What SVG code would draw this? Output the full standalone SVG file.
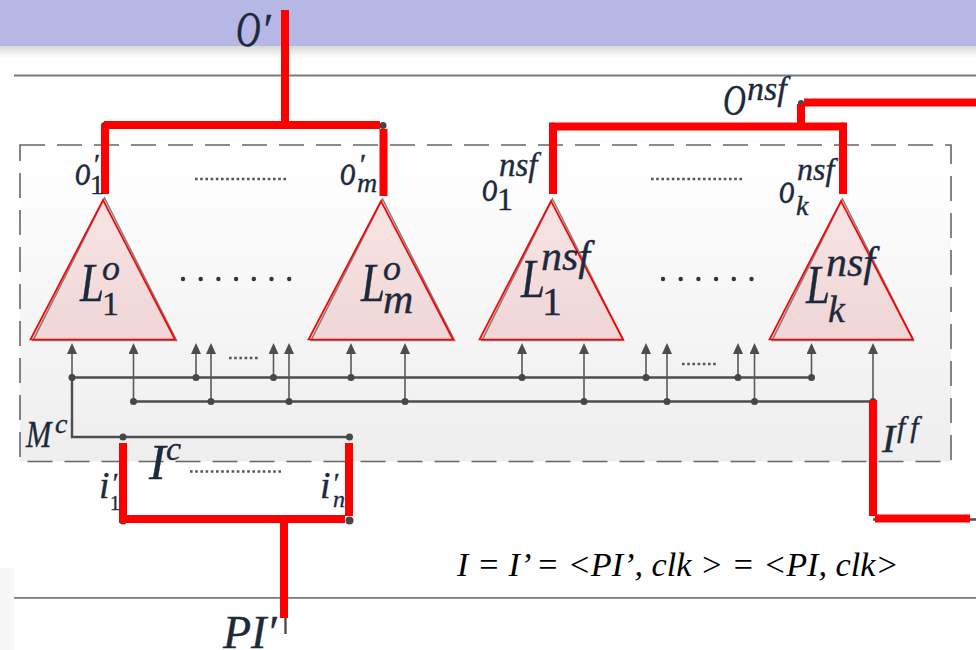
<svg xmlns="http://www.w3.org/2000/svg" width="976" height="650" viewBox="0 0 976 650">
<style>
.m{font-family:"Liberation Serif","Times New Roman",serif;font-style:italic;fill:#1c2a3c;stroke:#1c2a3c;stroke-width:.35}
.u{font-style:normal}
.tf{fill:url(#pink)}
.tri{fill:none;stroke:#ff0000;stroke-width:1.7;stroke-linejoin:miter}
.sh{fill:none;stroke:#808080;stroke-width:1.6}
.red{fill:none;stroke:#ff0000;stroke-width:8}
.bus{fill:none;stroke:#4d4d4d;stroke-width:2.4}
.arr{stroke:#5a5a5a;stroke-width:1.6;marker-end:url(#ah)}
.dot{fill:#474747}
.dots{fill:none;stroke:#555;stroke-dasharray:2.6 2.6;stroke-width:2.6}
.big{fill:none;stroke:#333;stroke-width:4.4;stroke-linecap:round;stroke-dasharray:0 17.7}
.rule{stroke:#7a7a7a;stroke-width:1.8}
</style>
<defs>
<marker id="ah" viewBox="0 0 11 10" refX="0" refY="5" markerWidth="11" markerHeight="10" markerUnits="userSpaceOnUse" orient="auto"><path d="M0 0L11 5L0 10Z" fill="#4d4d4d"/></marker>
<linearGradient id="panel" x1="0" y1="0" x2="0" y2="1"><stop offset="0" stop-color="#ffffff"/><stop offset="1" stop-color="#eeeeee"/></linearGradient>
<linearGradient id="pink" x1="0" y1="0" x2="0" y2="1"><stop offset="0" stop-color="#f8e4e4"/><stop offset="1" stop-color="#f0d6d6"/></linearGradient>
<linearGradient id="shade" x1="0" y1="0" x2="0" y2="1"><stop offset="0" stop-color="#d8d8d8"/><stop offset="1" stop-color="#ffffff"/></linearGradient>
</defs>
<rect width="976" height="650" fill="#ffffff"/>
<g id="background">
<rect x="0" y="0" width="976" height="46" fill="#b7b7e5"/>
<rect x="0" y="46" width="976" height="12" fill="url(#shade)"/>
<rect x="0" y="568" width="14" height="82" fill="#f7f7f7"/>
<line class="rule" x1="14" y1="75.5" x2="976" y2="75.5"/>
<line class="rule" x1="14" y1="597.8" x2="976" y2="597.8"/>
</g>
<g id="panel-box"><rect x="20" y="145" width="931" height="316.500" fill="url(#panel)" stroke="#666" stroke-width="1.600" stroke-dasharray="25 12"/></g>
<g id="node-L1o"><path class="tf" d="M103 200L175 339.500H30.500Z"/><path class="sh" d="M104.500 198L176.500 340.500H33Z"/><path class="tri" d="M103 200L175 339.500H30.500Z"/>
<text class="m" transform="translate(80 301) scale(.8 1)" font-size="54">L</text><text class="m" font-size="36"><tspan x="102" y="280">o</tspan><tspan class="u" x="102" y="315" font-size="34">1</tspan></text></g>
<g id="node-Lmo"><path class="tf" d="M381 201L453 339.500H308.500Z"/><path class="sh" d="M382.500 199L454.500 340.500H311Z"/><path class="tri" d="M381 201L453 339.500H308.500Z"/>
<text class="m" transform="translate(361 301) scale(.8 1)" font-size="54">L</text><text class="m" font-size="36"><tspan x="383" y="280">o</tspan><tspan x="383" y="313" font-size="42">m</tspan></text></g>
<g id="node-L1nsf"><path class="tf" d="M551 201L623 339.500H479.500Z"/><path class="sh" d="M552.500 199L623.500 340.500H482Z"/><path class="tri" d="M551 201L623 339.500H479.500Z"/>
<text class="m" transform="translate(521 297) scale(.8 1)" font-size="54">L</text><text class="m" font-size="42"><tspan x="541" y="270">nsf</tspan><tspan class="u" x="542" y="315" font-size="40">1</tspan></text></g>
<g id="node-Lknsf"><path class="tf" d="M841 201L913 339.500H769.500Z"/><path class="sh" d="M842.500 199L913.500 340.500H772Z"/><path class="tri" d="M841 201L913 339.500H769.500Z"/>
<text class="m" transform="translate(806 303) scale(.8 1)" font-size="54">L</text><text class="m" font-size="42"><tspan x="826" y="276">nsf</tspan><tspan x="828" y="322" font-size="38">k</tspan></text></g>
<g id="connectors">
<path class="bus" d="M72 377.500H811"/>
<path class="bus" d="M133.500 401.500H873"/>
<path class="bus" d="M72 377.500V437H349"/>
<path class="bus" d="M285.500 618V634"/>
<path class="bus" d="M873 519.500H976"/>
<g>
<line class="arr" x1="72" y1="377" x2="72" y2="354"/><line class="arr" x1="133.500" y1="401" x2="133.500" y2="354"/>
<line class="arr" x1="196" y1="377" x2="196" y2="354"/><line class="arr" x1="211" y1="401" x2="211" y2="354"/>
<line class="arr" x1="273.500" y1="377" x2="273.500" y2="354"/><line class="arr" x1="289" y1="401" x2="289" y2="354"/>
<line class="arr" x1="351" y1="377" x2="351" y2="354"/><line class="arr" x1="405" y1="401" x2="405" y2="354"/>
<line class="arr" x1="522" y1="377" x2="522" y2="354"/><line class="arr" x1="584" y1="401" x2="584" y2="354"/>
<line class="arr" x1="646" y1="377" x2="646" y2="354"/><line class="arr" x1="667" y1="401" x2="667" y2="354"/>
<line class="arr" x1="738" y1="377" x2="738" y2="354"/><line class="arr" x1="754.500" y1="401" x2="754.500" y2="354"/>
<line class="arr" x1="811.500" y1="377" x2="811.500" y2="354"/><line class="arr" x1="873" y1="401" x2="873" y2="354"/>
</g>
<g>
<circle class="dot" cx="72" cy="377.500" r="3.500"/><circle class="dot" cx="196" cy="377.500" r="3.500"/><circle class="dot" cx="273.500" cy="377.500" r="3.500"/><circle class="dot" cx="351" cy="377.500" r="3.500"/><circle class="dot" cx="522" cy="377.500" r="3.500"/><circle class="dot" cx="646" cy="377.500" r="3.500"/><circle class="dot" cx="738" cy="377.500" r="3.500"/><circle class="dot" cx="811.500" cy="377.500" r="3.500"/>
<circle class="dot" cx="133.500" cy="401.500" r="3.500"/><circle class="dot" cx="211" cy="401.500" r="3.500"/><circle class="dot" cx="289" cy="401.500" r="3.500"/><circle class="dot" cx="405" cy="401.500" r="3.500"/><circle class="dot" cx="584" cy="401.500" r="3.500"/><circle class="dot" cx="667" cy="401.500" r="3.500"/><circle class="dot" cx="754.500" cy="401.500" r="3.500"/><circle class="dot" cx="873" cy="401.500" r="3.500"/>
<circle class="dot" cx="123" cy="437" r="3.500"/><circle class="dot" cx="349.500" cy="437" r="3.500"/><circle class="dot" cx="123" cy="521" r="3.500"/><circle class="dot" cx="349.500" cy="520.500" r="4"/>
<circle class="dot" cx="104.500" cy="125.500" r="3.500"/><circle class="dot" cx="383" cy="125.500" r="3.500"/><circle class="dot" cx="553" cy="126" r="3.500"/><circle class="dot" cx="843" cy="126" r="3.500"/><circle class="dot" cx="801" cy="103" r="3"/>
</g>
<path class="red" d="M285 10V125"/><path class="red" d="M104 125H380"/><path class="red" d="M105 125V194"/><path class="red" d="M383.500 129V196"/>
<path class="red" d="M549 126.500H847"/><path class="red" d="M553 126.500V194"/><path class="red" d="M843 126.500V194"/><path class="red" d="M801 126V104"/><path class="red" d="M804 102.500H976"/>
<path class="red" d="M123 443V519"/><path class="red" d="M349 443V516"/><path class="red" d="M119 519H345"/><path class="red" d="M284 519V618"/>
<path class="red" d="M873 400V516"/><path class="red" d="M875 518.500H970"/>
</g>
<g id="ellipses">
<path class="dots" d="M195 179H288"/><path class="dots" d="M651 179H743"/><path class="dots" d="M190 471.500H283"/><path class="dots" d="M229 358H260"/><path class="dots" d="M682 364H718"/>
<path class="big" d="M183 279H292"/><path class="big" d="M663 279H753"/>
</g>
<g id="labels">
<text class="m" transform="translate(236 46) scale(.68 1)" font-size="50">O</text><text class="m" x="261" y="44" font-size="44">′</text>
<text class="m" transform="translate(723 115) scale(.72 1)" font-size="44">O</text><text class="m" x="747" y="100" font-size="34">nsf</text>
<text class="m" transform="translate(75 185) scale(.72 1)" font-size="44">o</text><text class="m" font-size="30"><tspan x="92" y="174">′</tspan><tspan class="u" x="90" y="194" font-size="28">1</tspan></text>
<text class="m" transform="translate(340 185) scale(.72 1)" font-size="44">o</text><text class="m" font-size="30"><tspan x="358" y="174">′</tspan><tspan x="357" y="192" font-size="28">m</tspan></text>
<text class="m" transform="translate(482 201) scale(.72 1)" font-size="44">o</text><text class="m" font-size="33"><tspan x="499" y="176">nsf</tspan><tspan class="u" x="497" y="210" font-size="32">1</tspan></text>
<text class="m" transform="translate(779 203) scale(.72 1)" font-size="44">o</text><text class="m" font-size="32"><tspan x="797" y="180">nsf</tspan><tspan x="796" y="215" font-size="28">k</tspan></text>
<text class="m" transform="translate(26 447) scale(.8 1)" font-size="38">M</text><text class="m" x="55" y="433" font-size="28">c</text>
<text class="m" font-size="50"><tspan x="149" y="479">I</tspan><tspan x="166" y="460" font-size="34">c</tspan></text>
<text class="m" font-size="38"><tspan x="99" y="498">i</tspan><tspan x="111" y="492" font-size="28">′</tspan><tspan class="u" x="110" y="510" font-size="20">1</tspan></text>
<text class="m" font-size="38"><tspan x="320" y="498">i</tspan><tspan x="332" y="492" font-size="28">′</tspan><tspan x="333" y="507" font-size="24">n</tspan></text>
<text class="m" x="223" y="648" font-size="46">PI′</text>
<text class="m" font-size="40"><tspan x="882" y="452">I</tspan><tspan x="897" y="437" font-size="30" letter-spacing="5">ff</tspan></text>
<text x="457" y="576" font-size="34.200" style="font-family:'Liberation Serif','Times New Roman',serif;font-style:italic;fill:#000">I = I’ = &lt;PI’, clk &gt; = &lt;PI, clk&gt;</text>
</g>
</svg>
